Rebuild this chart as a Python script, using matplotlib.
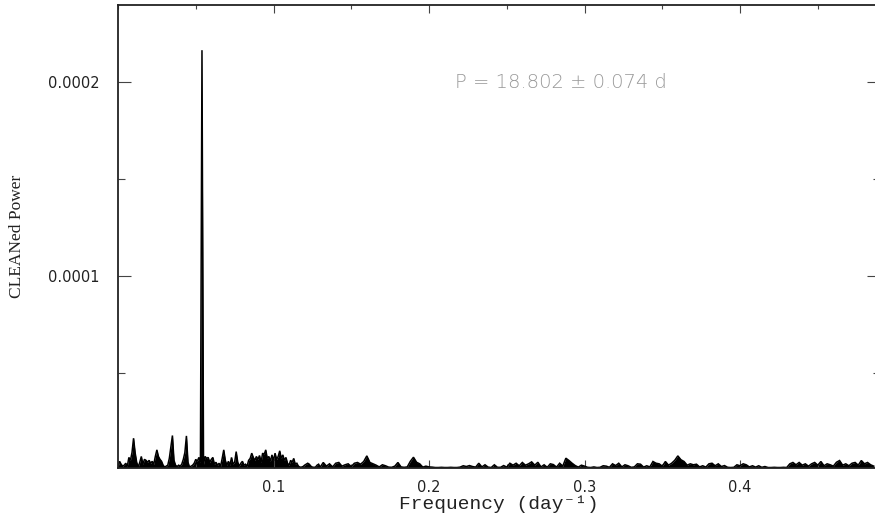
import numpy as np
import matplotlib
matplotlib.use("Agg")
import matplotlib.pyplot as plt
from matplotlib.ticker import MultipleLocator, FixedLocator

# CLEANed power spectrum, values in units of 1e-6
# low-frequency part: sampled every 0.001 day^-1 starting at 0.000
power_lo = [
    1.5, 4.5, 3.0, 2.0, 2.5, 3.5, 2.0, 6.5, 5.0, 9.0,
    16.4, 9.0, 4.0, 1.5, 4.0, 7.0, 3.0, 5.5, 5.0, 4.0,
    5.0, 3.5, 4.5, 3.0, 7.0, 10.4, 7.0, 5.5, 4.5, 2.5,
    1.5, 2.0, 2.5, 6.0, 12.0, 17.8, 5.0, 2.5, 1.8, 2.5,
    2.0, 3.0, 5.5, 9.0, 17.6, 4.0, 1.5, 2.0, 2.5, 3.5,
    5.5, 4.5, 6.5, 4.0, 216.5, 3.0, 7.0, 6.0, 6.5, 4.0,
    5.5, 6.5, 3.0, 4.0, 2.5, 3.5, 2.0, 6.0, 10.4, 5.0,
    2.5, 4.5, 2.5, 6.5, 3.0, 4.0, 9.5, 4.0, 2.0, 3.5,
    4.5, 2.5, 3.0, 2.0, 5.0, 6.0, 8.7, 6.5, 5.0, 7.0,
    5.5, 7.5, 4.0, 8.7, 8.0, 10.4, 6.0, 7.0, 4.5, 7.8,
    5.0, 8.7, 5.5, 7.0, 9.9, 6.0, 7.8, 5.0, 6.5, 3.5,
    2.5, 5.0, 4.0, 6.0, 3.0, 3.5, 2.0, 1.5, 1.5, 1.8,
    2.5, 3.0, 3.5, 3.0, 2.0, 1.5, 1.4, 1.5, 2.5, 3.0,
    1.5,
]
# high-frequency part: sampled every 0.002 day^-1 starting at 0.132
power_hi = [
    3.9, 2.0, 3.2, 1.6, 3.5, 3.9, 2.0, 2.7, 3.2, 1.8,
    3.5, 3.9, 3.0, 4.4, 7.3, 3.9, 3.2, 2.5, 1.6, 2.7,
    2.2, 1.5, 1.4, 2.0, 3.9, 1.6, 1.4, 1.6, 4.5, 6.6,
    4.0, 3.2, 1.5, 2.0, 1.6, 1.5, 1.3, 1.3, 1.4, 1.3,
    1.3, 1.4, 1.3, 1.3, 1.5, 2.2, 1.8, 2.3, 1.8, 1.5,
    3.5, 1.6, 2.7, 1.5, 1.3, 2.7, 1.4, 1.4, 2.3, 1.5,
    3.5, 2.5, 3.5, 2.2, 3.9, 2.5, 3.2, 4.2, 2.5, 4.0,
    1.6, 2.7, 1.4, 3.2, 2.8, 1.5, 3.5, 2.0, 6.1, 4.9,
    3.5, 2.3, 1.5, 2.5, 2.0, 1.4, 1.3, 1.6, 1.3, 1.4,
    2.2, 2.0, 1.4, 3.2, 2.3, 3.5, 1.6, 2.7, 2.2, 1.4,
    1.6, 3.2, 3.0, 1.5, 2.2, 1.6, 4.4, 3.5, 3.2, 2.0,
    4.4, 2.5, 3.5, 5.0, 7.3, 5.3, 4.4, 2.5, 3.2, 2.7,
    3.0, 1.6, 2.2, 1.5, 3.2, 3.5, 2.2, 3.2, 1.8, 2.3,
    1.4, 1.3, 1.4, 2.7, 2.2, 3.2, 2.7, 1.6, 2.2, 1.5,
    2.2, 1.4, 1.8, 1.3, 1.3, 1.4, 1.3, 1.3, 1.4, 1.3,
    3.2, 3.9, 2.7, 3.9, 2.5, 3.2, 2.0, 3.2, 3.9, 2.5,
    4.4, 2.2, 3.2, 2.7, 2.0, 4.0, 4.9, 2.5, 3.2, 2.2,
    3.5, 3.9, 2.5, 4.9, 3.2, 3.9, 2.7, 2.0,
]
lo_start, lo_step = 0.000, 0.001
hi_start, hi_step = 0.132, 0.002

x_ticks = [0.1, 0.2, 0.3, 0.4]
x_tick_labels = ["0.1", "0.2", "0.3", "0.4"]
y_ticks = [0.0001, 0.0002]
y_tick_labels = ["0.0001", "0.0002"]
annotation = "P = 18.802 \u00b1 0.074 d"

freq = np.concatenate([lo_start + lo_step * np.arange(len(power_lo)),
                       hi_start + hi_step * np.arange(len(power_hi))])
power = np.concatenate([power_lo, power_hi]) * 1e-6

W, H = 875, 516
fig = plt.figure(figsize=(W / 100, H / 100), dpi=100)
left_px, right_px, top_px, bot_px = 118, 880, 5, 467.7
ax_w, ax_h = right_px - left_px, bot_px - top_px
ax = fig.add_axes([left_px / W, (H - bot_px) / H, ax_w / W, ax_h / H])

y_floor = 1.2e-6
ax.fill_between(freq, y_floor, power, color="black", lw=0)
ax.plot(freq, power, color="black", lw=1.1, solid_joinstyle="miter")

ax.set_xlim(0.0, 0.49)
ax.set_ylim(y_floor, 2.398e-4)

ax.xaxis.set_major_locator(FixedLocator(x_ticks))
ax.set_xticklabels(x_tick_labels)
ax.xaxis.set_minor_locator(MultipleLocator(0.05))
ax.yaxis.set_major_locator(FixedLocator(y_ticks))
ax.set_yticklabels(y_tick_labels)
ax.yaxis.set_minor_locator(FixedLocator([0.00005, 0.00015]))

for lab in ax.get_xticklabels() + ax.get_yticklabels():
    lab.set_fontfamily("DejaVu Sans")
    lab.set_fontsize(10.5)
    lab.set_color("#222222")

ax.tick_params(axis="x", which="major", direction="in", length=5.8, width=0.8,
               top=True, bottom=True, pad=8.5, color="#444444")
ax.tick_params(axis="x", which="minor", direction="in", length=2.9, width=0.8,
               top=True, bottom=True, color="#444444")
ax.tick_params(axis="y", which="major", direction="in", length=9.4, width=0.8,
               left=True, right=True, pad=13, color="#444444")
ax.tick_params(axis="y", which="minor", direction="in", length=4.7, width=0.8,
               left=True, right=True, color="#444444")

for s in ax.spines.values():
    s.set_linewidth(1.3)
    s.set_color("#222222")

ax.set_xlabel("Frequency (day\u207b\u00b9)", family=["Liberation Mono", "DejaVu Sans Mono"],
              fontsize=14, color="#222222", va="center")
ax.xaxis.set_label_coords(0.5, -(504 - bot_px) / ax_h)
ax.set_ylabel("CLEANed Power", family="Liberation Serif", fontsize=12.5,
              color="#222222", va="center")
ax.yaxis.set_label_coords(-(118 - 17) / ax_w, 0.5)

ax.text((561 - left_px) / ax_w, (bot_px - 83) / ax_h,
        annotation, transform=ax.transAxes, ha="center", va="center",
        fontsize=14, color="#999999", family="DejaVu Sans", fontweight="light")

fig.savefig("out.png", dpi=100)
